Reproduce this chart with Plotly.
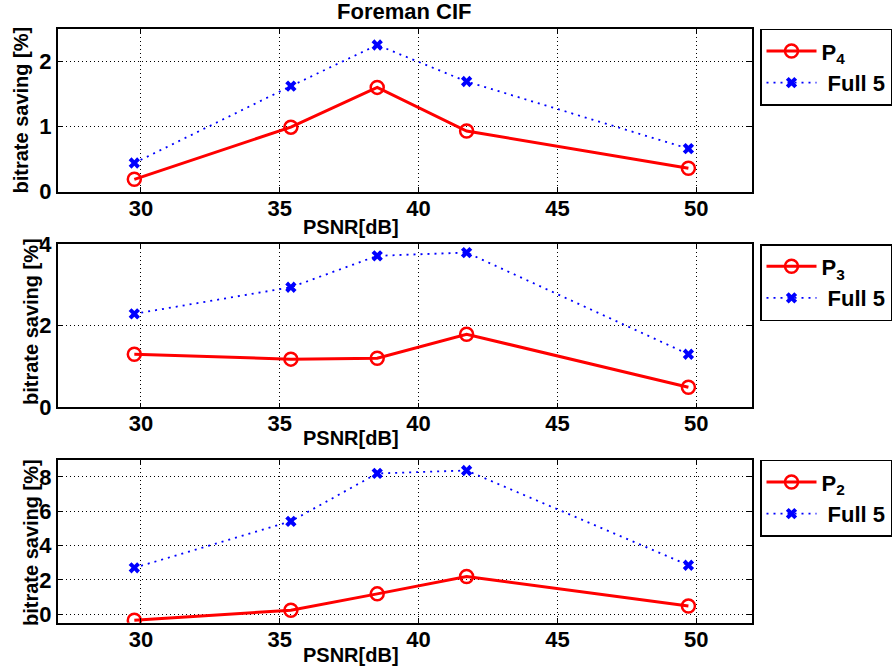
import plotly.graph_objects as go

# ---- data ----
psnr = [29.76, 35.40, 38.51, 41.73, 49.72]
p4 = [0.19, 0.99, 1.60, 0.93, 0.36]
full5_top = [0.44, 1.62, 2.25, 1.69, 0.66]
p3 = [1.30, 1.18, 1.20, 1.79, 0.49]
full5_mid = [2.29, 2.94, 3.71, 3.79, 1.30]
p2 = [-0.35, 0.23, 1.18, 2.19, 0.47]
full5_bot = [2.70, 5.41, 8.20, 8.37, 2.85]

x_ticks = [30, 35, 40, 45, 50]
title_text = "Foreman CIF"
x_label = "PSNR[dB]"
y_label = "bitrate saving [%]"

W, H = 895, 670
FONT = "Liberation Sans, Arial, Helvetica, sans-serif"
X0, X1 = 57.7, 751.7  # plot area left/right in pixels

def px(x):
    return x / W

def py(y):
    return 1 - y / H

panels = [
    # red, blue, red name, y range, dtick, top px, bottom px, legend, ytitle cx/cy, xtitle cy
    (p4, full5_top, "P<sub>4</sub>", [0, 2.5], 1, 28.7, 191.7, "legend", 20, 110.5, 227),
    (p3, full5_mid, "P<sub>3</sub>", [0, 4], 2, 244.0, 407.3, "legend2", 31, 322, 438),
    (p2, full5_bot, "P<sub>2</sub>", [-0.5, 9], 2, 459.7, 622.7, "legend3", 31, 543, 655),
]

fig = go.Figure()
layout = dict(
    width=W, height=H, autosize=False,
    margin=dict(l=0, r=0, t=0, b=0, pad=0, autoexpand=False),
    paper_bgcolor="white", plot_bgcolor="white",
    annotations=[],
)

x_dom = [px(X0), px(X1)]
tickfont = dict(family=FONT, size=22, color="black", weight="bold")
labfont = dict(family=FONT, size=20, color="black", weight="bold")

def dx(xpix):
    return (xpix - X0) / (X1 - X0)

for i, (red, blue, rname, yr, dt, top, bot, leg, ycx, ycy, xcy) in enumerate(panels):
    sfx = "" if i == 0 else str(i + 1)
    xa = "x" + sfx
    ya = "y" + sfx
    fig.add_trace(go.Scatter(
        x=psnr, y=red, name=rname, xaxis=xa, yaxis=ya, legend=leg,
        mode="lines+markers",
        line=dict(color="#ff0000", width=3),
        marker=dict(symbol="circle-open", size=13, color="#ff0000",
                    line=dict(width=2.5, color="#ff0000")),
    ))
    fig.add_trace(go.Scatter(
        x=psnr, y=blue, name="\u00a0Full 5", xaxis=xa, yaxis=ya, legend=leg,
        mode="lines+markers",
        line=dict(color="#0000ff", width=1.8, dash="2px,5px"),
        marker=dict(symbol="x", size=10, color="#0000ff",
                    line=dict(width=0)),
    ))
    common = dict(
        showline=True, linecolor="black", linewidth=1.5, mirror="allticks",
        ticks="inside", ticklen=5, tickcolor="black", tickwidth=1,
        showgrid=True, gridcolor="black", gridwidth=1, griddash="1px,3px",
        zeroline=False, tickfont=tickfont, fixedrange=True, automargin=False,
    )
    layout["xaxis" + sfx] = dict(
        domain=x_dom, anchor=ya, range=[27, 52],
        tickmode="array", tickvals=x_ticks, ticktext=[str(t) for t in x_ticks],
        ticklabelstandoff=-4, **common,
    )
    layout["yaxis" + sfx] = dict(
        domain=[py(bot), py(top)], anchor=xa, range=yr,
        tick0=0, dtick=dt, ticklabelstandoff=0, **common,
    )
    layout[leg] = dict(
        x=px(760), xanchor="left", y=py(top), yanchor="top",
        bgcolor="white", bordercolor="black", borderwidth=1.5,
        font=dict(family=FONT, size=22, color="black", weight="bold"),
        itemwidth=50, tracegroupgap=0,
    )

    def dy(ypix, top=top, bot=bot):
        return (bot - ypix) / (bot - top)

    xref = xa + " domain"
    yref = ya + " domain"
    layout["annotations"].append(dict(
        x=dx(ycx), y=dy(ycy), xref=xref, yref=yref,
        text=y_label, textangle=-90, showarrow=False,
        xanchor="center", yanchor="middle", font=labfont,
    ))
    layout["annotations"].append(dict(
        x=dx(351), y=dy(xcy), xref=xref, yref=yref,
        text=x_label, showarrow=False, xanchor="center", yanchor="middle",
        font=labfont,
    ))
    if i == 0:
        layout["annotations"].append(dict(
            x=dx(404), y=dy(11), xref=xref, yref=yref,
            text=title_text, showarrow=False, xanchor="center", yanchor="middle",
            font=dict(family=FONT, size=22, color="black", weight="bold"),
        ))

fig.update_layout(**layout)
fig.write_html("out.html", config={"displayModeBar": False},
               post_script="document.body.style.margin='0px';")
